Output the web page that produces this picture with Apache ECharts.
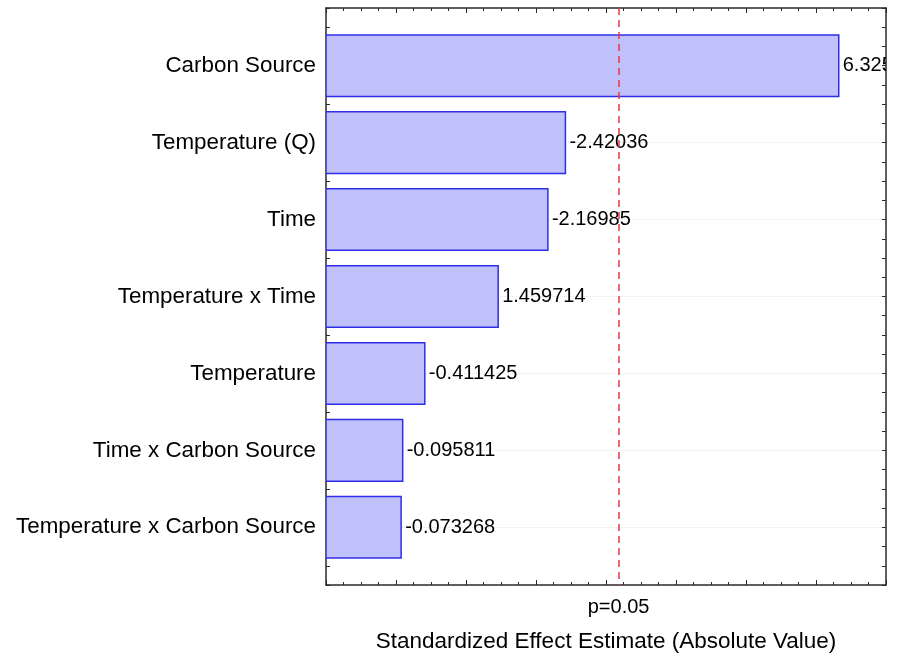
<!DOCTYPE html>
<html>
<head>
<meta charset="utf-8">
<script src="https://cdn.jsdelivr.net/npm/echarts@6/dist/echarts.min.js"></script>
<style>
html,body{margin:0;padding:0;background:#fff;}
#chart{width:897px;height:658px;}
</style>
</head>
<body>
<div id="chart"></div>
<script>
// ---- data ----
const categories = [
  'Carbon Source',
  'Temperature (Q)',
  'Time',
  'Temperature x Time',
  'Temperature',
  'Time x Carbon Source',
  'Temperature x Carbon Source'
];
const effects = [6.325, -2.42036, -2.16985, 1.459714, -0.411425, -0.095811, -0.073268];
const pCritical = 3.182;
const pLabel = 'p=0.05';
const xAxisTitle = 'Standardized Effect Estimate (Absolute Value)';

const FONT = '"Liberation Sans", Arial, Helvetica, sans-serif';
const X_MIN = -1, X_MAX = 7;
const Y_MIN = 0.25, Y_MAX = 7.75;

const seriesData = categories.map((c, i) => [i + 1, Math.abs(effects[i]), effects[i]]);

const chart = echarts.init(document.getElementById('chart'), null, {renderer: 'canvas'});

const xCommon = {
  type: 'value', min: X_MIN, max: X_MAX, interval: 1,
  axisLine: {show: true, onZero: false, lineStyle: {color: '#2a2a2a', width: 1.5}},
  axisTick: {show: true, inside: true, length: 5, lineStyle: {color: '#2a2a2a'}},
  minorTick: {show: true, splitNumber: 4, length: 3, lineStyle: {color: '#2a2a2a'}},
  axisLabel: {show: false},
  splitLine: {show: false}
};
const yCommon = {
  type: 'value', inverse: true, min: Y_MIN, max: Y_MAX, interval: 0.25,
  axisLine: {show: true, onZero: false, lineStyle: {color: '#2a2a2a', width: 1.5}},
  axisTick: {show: true, inside: true, length: 4, lineStyle: {color: '#2a2a2a'}},
  splitLine: {show: false}
};

chart.setOption({
  animation: false,
  backgroundColor: '#fff',
  grid: {left: 326, right: 11, top: 8, bottom: 68, containLabel: false},
  xAxis: [
    Object.assign({}, xCommon, {
      position: 'bottom',
      name: xAxisTitle, nameLocation: 'middle', nameGap: 45,
      nameTextStyle: {fontFamily: FONT, fontSize: 22.5, color: '#000'}
    }),
    Object.assign({}, xCommon, {position: 'top'})
  ],
  yAxis: [
    Object.assign({}, yCommon, {
      position: 'left',
      axisLabel: {
        show: true, margin: 10, fontFamily: FONT, fontSize: 22.4, color: '#000',
        formatter: function (v) {
          const r = Math.round(v);
          if (Math.abs(v - r) < 1e-6 && r >= 1 && r <= categories.length) return categories[r - 1];
          return '';
        }
      },
      splitLine: {show: true, lineStyle: {color: ['rgba(0,0,0,0)', 'rgba(0,0,0,0)', 'rgba(0,0,0,0)', '#e6e6e6'], type: 'dotted', width: 1}}
    }),
    Object.assign({}, yCommon, {position: 'right', axisLabel: {show: false}})
  ],
  series: [
    {
      type: 'custom',
      xAxisIndex: 0, yAxisIndex: 0,
      clip: true,
      encode: {x: 1, y: 0},
      data: seriesData,
      renderItem: function (params, api) {
        const pos = api.value(0);
        const val = api.value(1);
        const raw = api.value(2);
        const start = api.coord([X_MIN, pos]);
        const end = api.coord([val, pos]);
        const h = api.size([0, 0.8])[1];
        return {
          type: 'group',
          children: [
            {
              type: 'rect',
              shape: {x: start[0], y: start[1] - h / 2, width: end[0] - start[0], height: h},
              style: {fill: '#c0c0fa', stroke: '#2e2ee8', lineWidth: 1.5}
            },
            {
              type: 'text',
              x: end[0] + 4, y: end[1],
              style: {text: String(raw), fontFamily: FONT, fontSize: 20, fill: '#000', align: 'left', verticalAlign: 'middle'}
            }
          ]
        };
      }
    },
    {
      type: 'line',
      xAxisIndex: 0, yAxisIndex: 0,
      data: [],
      markLine: {
        silent: true,
        symbol: ['none', 'none'],
        lineStyle: {color: '#ee3344', type: [7, 5], width: 1.5},
        label: {show: true, position: 'end', formatter: pLabel, fontFamily: FONT, fontSize: 20, color: '#000', distance: 12},
        data: [{xAxis: pCritical}]
      }
    }
  ]
});
</script>
</body>
</html>
